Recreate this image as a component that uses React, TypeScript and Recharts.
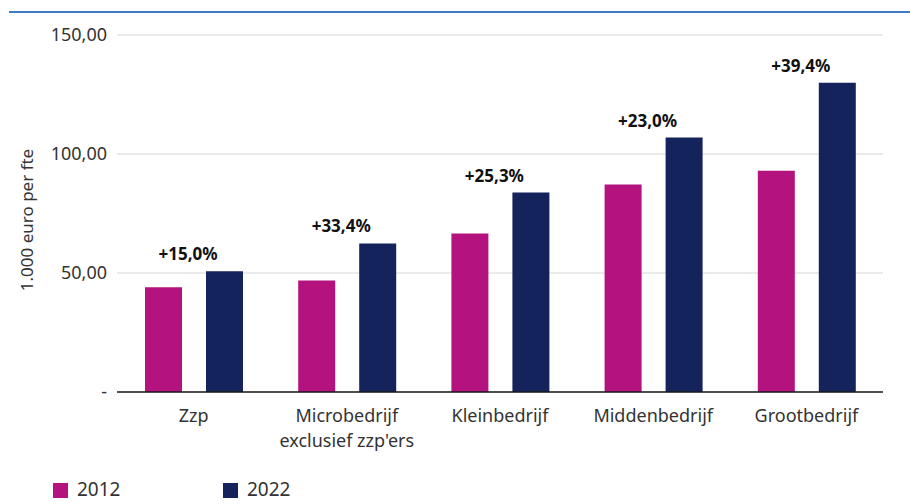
import { Bar, BarChart, CartesianGrid, LabelList, Legend, XAxis, YAxis } from "recharts";

const categories = [
  "Zzp",
  "Microbedrijf\nexclusief zzp'ers",
  "Kleinbedrijf",
  "Middenbedrijf",
  "Grootbedrijf",
];
const values2012 = [44.0, 46.9, 66.6, 87.2, 93.0];
const values2022 = [50.7, 62.4, 83.8, 106.9, 129.9];
const growthLabels = ["+15,0%", "+33,4%", "+25,3%", "+23,0%", "+39,4%"];
const yTicks = [0, 50, 100, 150];
const seriesNames = ["2012", "2022"];

const COLORS = ["#b3127f", "#14235b"];
const FONT = "'Noto Sans', sans-serif";

const data = categories.map((name, i) => ({
  name,
  v2012: values2012[i],
  v2022: values2022[i],
  growth: growthLabels[i],
}));

const formatY = (v: number) =>
  v === 0 ? "-" : v.toFixed(2).replace(".", ",");

function XTick({ x, y, payload }: any) {
  const lines = String(payload.value).split("\n");
  return (
    <text x={x} y={y + 22} textAnchor="middle" fill="#333" fontSize={18} fontFamily={FONT}>
      {lines.map((line, i) => (
        <tspan key={i} x={x} dy={i === 0 ? 0 : 25}>
          {line}
        </tspan>
      ))}
    </text>
  );
}

function GrowthLabel({ x, y, value }: any) {
  return (
    <text
      x={x - 18}
      y={y - 11}
      textAnchor="middle"
      fontSize={17}
      fontWeight="bold"
      fill="#111"
      fontFamily={FONT}
    >
      {value}
    </text>
  );
}

function LegendContent() {
  return (
    <div style={{ display: "flex", height: 24, fontFamily: FONT }}>
      {seriesNames.map((name, i) => (
        <div key={name} style={{ display: "flex", width: 170, alignItems: "flex-start" }}>
          <span
            style={{
              width: 15,
              height: 15,
              background: COLORS[i],
              marginTop: 3,
              marginRight: 9,
              display: "inline-block",
            }}
          />
          <span style={{ fontSize: 19, lineHeight: "19px", color: "#333" }}>{name}</span>
        </div>
      ))}
    </div>
  );
}

export default function App() {
  return (
    <div style={{ position: "absolute", left: 0, top: 0, width: 910, height: 504, background: "#fff" }}>
      <div
        style={{
          position: "absolute",
          left: 9,
          right: 0,
          top: 11,
          height: 2,
          background: "#3d7cc4",
        }}
      />
      <BarChart
        width={910}
        height={504}
        data={data}
        margin={{ top: 35, right: 27, left: 0, bottom: 0 }}
        barSize={37}
        barGap={24}
      >
        <CartesianGrid vertical={false} stroke="#d6d6d6" />
        <XAxis
          dataKey="name"
          tickLine={false}
          axisLine={{ stroke: "#1a1a1a", strokeWidth: 1.5 }}
          tick={<XTick />}
          height={88}
          interval={0}
        />
        <YAxis
          width={117}
          domain={[0, 150]}
          ticks={yTicks}
          tickFormatter={formatY}
          axisLine={false}
          tickLine={false}
          tickMargin={4}
          tick={{ fill: "#333", fontSize: 18, fontFamily: FONT }}
          label={{
            content: () => (
              <text
                x={33}
                y={220}
                transform="rotate(-90 33 220)"
                textAnchor="middle"
                fill="#333"
                fontSize={17}
                fontFamily={FONT}
              >
                1.000 euro per fte
              </text>
            ),
          }}
        />
        <Legend
          verticalAlign="bottom"
          content={<LegendContent />}
          wrapperStyle={{ left: 53, top: 480, bottom: "auto", width: 400 }}
        />
        <Bar dataKey="v2012" name={seriesNames[0]} fill={COLORS[0]} isAnimationActive={false} />
        <Bar dataKey="v2022" name={seriesNames[1]} fill={COLORS[1]} isAnimationActive={false}>
          <LabelList dataKey="growth" content={<GrowthLabel />} />
        </Bar>
      </BarChart>
    </div>
  );
}
